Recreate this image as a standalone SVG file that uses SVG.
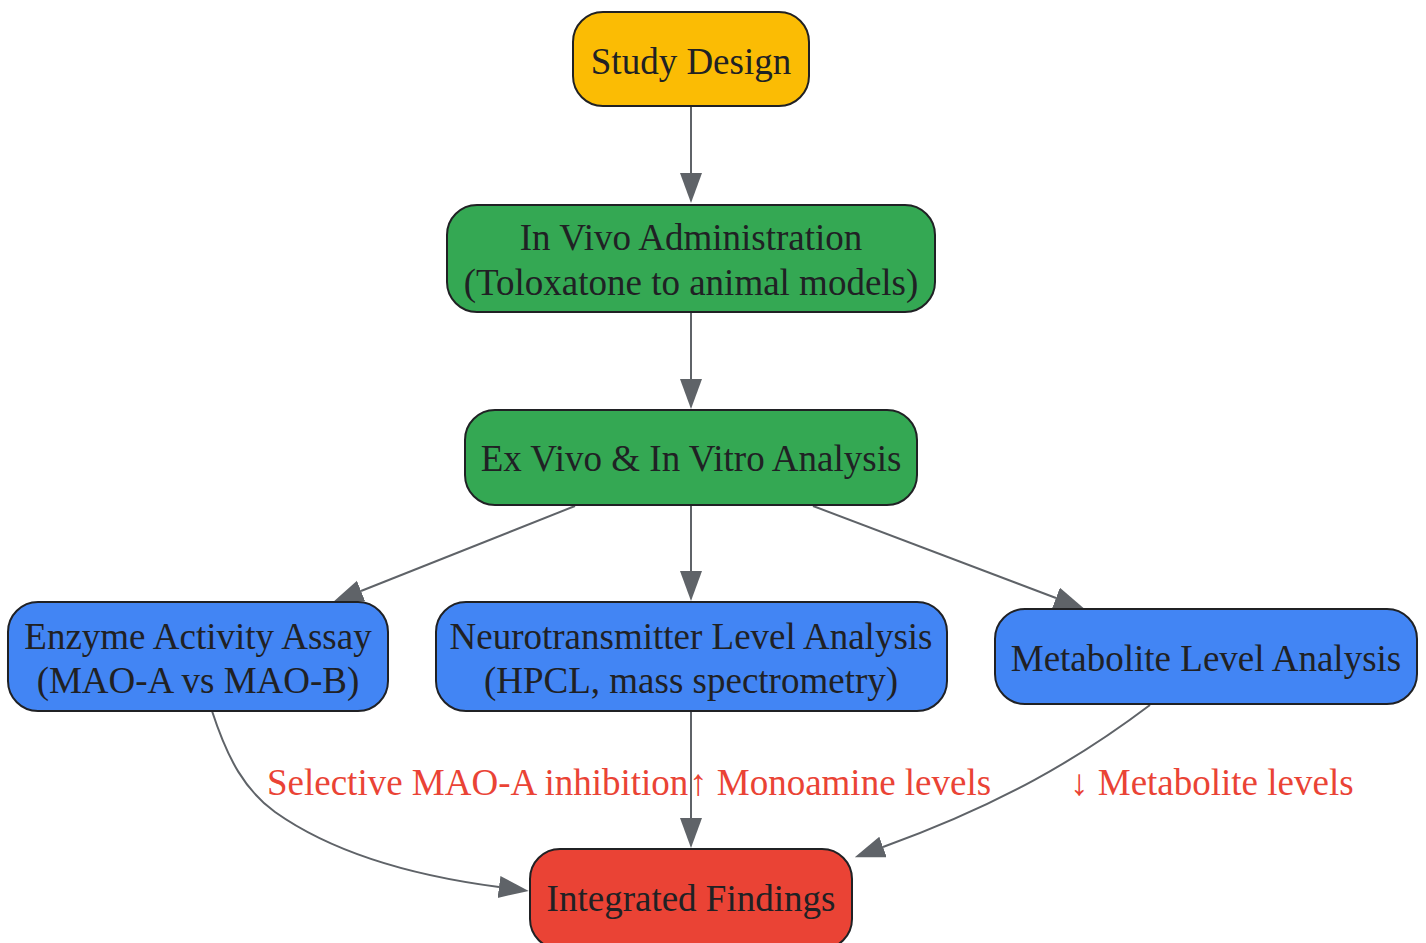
<svg xmlns="http://www.w3.org/2000/svg" width="1426" height="943" viewBox="0 0 1426 943">
<style>
.n rect{stroke:#202124;stroke-width:2}
.t{font-family:"Liberation Serif","Times New Roman",serif;font-size:37px;fill:#202124;text-anchor:middle}
.e{fill:none;stroke:#5f6368;stroke-width:2;marker-end:url(#ah)}
.l{font-family:"Liberation Serif","Times New Roman",serif;font-size:37px;fill:#ea4335}
</style>
<defs>
<marker id="ah" markerUnits="userSpaceOnUse" markerWidth="32" markerHeight="24" refX="0" refY="11" orient="auto" viewBox="0 0 32 24">
<path d="M0,0 L30,11 L0,22 z" fill="#5f6368"/>
</marker>
</defs>
<rect width="1426" height="943" fill="#ffffff"/>
<g id="connectors">
<path class="e" d="M691,106 V173"/>
<path class="e" d="M691,313 V379"/>
<path class="e" d="M575,506 L361,591"/>
<path class="e" d="M691,506 V571"/>
<path class="e" d="M813,506 L1056,598"/>
<path class="e" d="M212,711 C228,760 245,790 275,812 C340,858 430,878 499,887"/>
<path class="e" d="M691,711 V818"/>
<path class="e" d="M1150,705 C1080,758 1000,805 883,847"/>
<text class="l" x="267" y="795">Selective MAO-A inhibition</text>
<text class="l" x="689" y="795">↑ Monoamine levels</text>
<text class="l" x="1070" y="795">↓ Metabolite levels</text>
</g>
<g id="study_design" class="n">
<rect x="573" y="12" width="236" height="94" rx="30" fill="#fbbc04"/>
<text class="t" x="691" y="74">Study Design</text>
</g>
<g id="in_vivo" class="n">
<rect x="447" y="205" width="488" height="107" rx="30" fill="#34a853"/>
<text class="t" x="691" y="250">In Vivo Administration</text>
<text class="t" x="691" y="295">(Toloxatone to animal models)</text>
</g>
<g id="ex_vivo" class="n">
<rect x="465" y="410" width="452" height="95" rx="30" fill="#34a853"/>
<text class="t" x="691" y="471">Ex Vivo &amp; In Vitro Analysis</text>
</g>
<g id="enzyme" class="n">
<rect x="8" y="602" width="380" height="109" rx="30" fill="#4285f4"/>
<text class="t" x="198" y="649">Enzyme Activity Assay</text>
<text class="t" x="198" y="693">(MAO-A vs MAO-B)</text>
</g>
<g id="neuro" class="n">
<rect x="436" y="602" width="511" height="109" rx="30" fill="#4285f4"/>
<text class="t" x="691" y="649">Neurotransmitter Level Analysis</text>
<text class="t" x="691" y="693">(HPCL, mass spectrometry)</text>
</g>
<g id="metabolite" class="n">
<rect x="995" y="609" width="422" height="95" rx="30" fill="#4285f4"/>
<text class="t" x="1206" y="671">Metabolite Level Analysis</text>
</g>
<g id="integrated" class="n">
<rect x="530" y="849" width="322" height="100" rx="30" fill="#ea4335"/>
<text class="t" x="691" y="911">Integrated Findings</text>
</g>
</svg>
